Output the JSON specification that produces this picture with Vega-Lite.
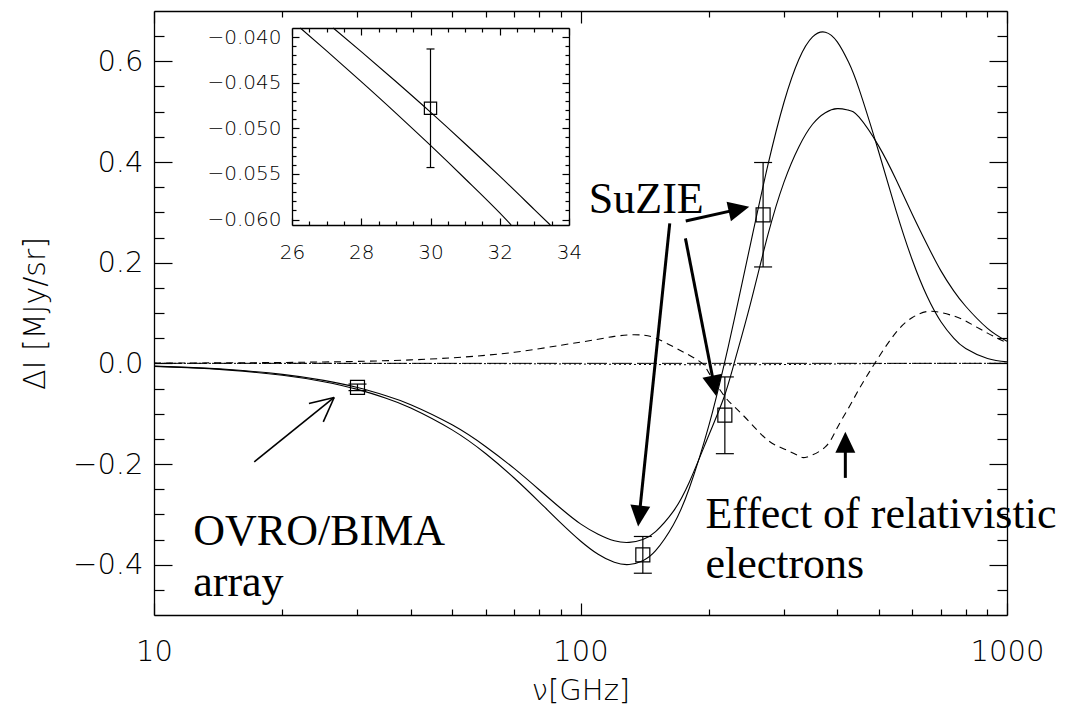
{
  "$schema": "https://vega.github.io/schema/vega-lite/v6.json",
  "width": 853,
  "height": 604,
  "autosize": {"type": "none"},
  "padding": {"left": 154, "top": 11, "right": 66, "bottom": 93},
  "background": "white",
  "config": {
    "view": {"stroke": null},
    "axis": {
      "grid": false,
      "domainColor": "black",
      "domainWidth": 1.3,
      "tickColor": "black",
      "tickWidth": 1.2,
      "labelColor": "black",
      "titleColor": "black",
      "labelFont": "DejaVu Sans",
      "titleFont": "DejaVu Sans",
      "labelFontWeight": 200,
      "titleFontWeight": 200,
      "labelFlush": false,
      "labelOverlap": false,
      "labelBound": false
    }
  },
  "datasets": {
    "nonrel": [
      {"nu": 10, "v": -0.00599}, {"nu": 12, "v": -0.00861}, {"nu": 15, "v": -0.0134}, {"nu": 20, "v": -0.0236},
      {"nu": 25, "v": -0.03645}, {"nu": 30, "v": -0.05175}, {"nu": 35, "v": -0.06925}, {"nu": 40, "v": -0.0887},
      {"nu": 50, "v": -0.13222}, {"nu": 60, "v": -0.17968}, {"nu": 70, "v": -0.22826}, {"nu": 80, "v": -0.27512},
      {"nu": 90, "v": -0.3175}, {"nu": 100, "v": -0.35295}, {"nu": 110, "v": -0.37943}, {"nu": 120, "v": -0.39537},
      {"nu": 130, "v": -0.3997}, {"nu": 140, "v": -0.39201}, {"nu": 150, "v": -0.37219}, {"nu": 165, "v": -0.32115},
      {"nu": 180, "v": -0.24768}, {"nu": 200, "v": -0.12338}, {"nu": 217, "v": -0.00342}, {"nu": 230, "v": 0.0916},
      {"nu": 250, "v": 0.23446}, {"nu": 275, "v": 0.39364}, {"nu": 300, "v": 0.51874}, {"nu": 325, "v": 0.6037},
      {"nu": 350, "v": 0.64857}, {"nu": 375, "v": 0.65789}, {"nu": 400, "v": 0.63862}, {"nu": 425, "v": 0.59845},
      {"nu": 450, "v": 0.54474}, {"nu": 500, "v": 0.42083}, {"nu": 550, "v": 0.30205}, {"nu": 600, "v": 0.20476},
      {"nu": 650, "v": 0.13257}, {"nu": 700, "v": 0.08266}, {"nu": 750, "v": 0.04993}, {"nu": 800, "v": 0.02936},
      {"nu": 900, "v": 0.00949}, {"nu": 1000, "v": 0.00286}
    ],
    "rel": [
      {"nu": 10, "v": -0.0056}, {"nu": 12, "v": -0.008}, {"nu": 15, "v": -0.0124}, {"nu": 20, "v": -0.0219},
      {"nu": 25, "v": -0.0339}, {"nu": 30, "v": -0.0481}, {"nu": 35, "v": -0.0643}, {"nu": 40, "v": -0.0822},
      {"nu": 50, "v": -0.1222}, {"nu": 60, "v": -0.1657}, {"nu": 70, "v": -0.2093}, {"nu": 80, "v": -0.2511},
      {"nu": 90, "v": -0.2885}, {"nu": 100, "v": -0.319}, {"nu": 110, "v": -0.3394}, {"nu": 120, "v": -0.3524},
      {"nu": 130, "v": -0.3557}, {"nu": 140, "v": -0.35}, {"nu": 150, "v": -0.3342}, {"nu": 165, "v": -0.2942},
      {"nu": 180, "v": -0.2357}, {"nu": 200, "v": -0.1424}, {"nu": 217, "v": -0.0674}, {"nu": 230, "v": 0.0046},
      {"nu": 250, "v": 0.1165}, {"nu": 275, "v": 0.255}, {"nu": 300, "v": 0.36}, {"nu": 325, "v": 0.43},
      {"nu": 350, "v": 0.475}, {"nu": 375, "v": 0.498}, {"nu": 400, "v": 0.506}, {"nu": 425, "v": 0.503},
      {"nu": 450, "v": 0.489}, {"nu": 500, "v": 0.432}, {"nu": 550, "v": 0.3641}, {"nu": 600, "v": 0.2958},
      {"nu": 650, "v": 0.2356}, {"nu": 700, "v": 0.1837}, {"nu": 750, "v": 0.1439}, {"nu": 800, "v": 0.1134},
      {"nu": 900, "v": 0.0695}, {"nu": 1000, "v": 0.0439}
    ],
    "dashed": [
      {"nu": 10, "v": 0.0004}, {"nu": 15, "v": 0.001}, {"nu": 20, "v": 0.0017}, {"nu": 25, "v": 0.0027},
      {"nu": 30, "v": 0.0038}, {"nu": 40, "v": 0.0068}, {"nu": 50, "v": 0.011}, {"nu": 60, "v": 0.016},
      {"nu": 70, "v": 0.022}, {"nu": 80, "v": 0.029}, {"nu": 90, "v": 0.036}, {"nu": 100, "v": 0.042},
      {"nu": 110, "v": 0.048}, {"nu": 120, "v": 0.0535}, {"nu": 130, "v": 0.0565}, {"nu": 140, "v": 0.056},
      {"nu": 150, "v": 0.05}, {"nu": 165, "v": 0.033}, {"nu": 180, "v": 0.016}, {"nu": 193, "v": 0.0},
      {"nu": 200, "v": -0.019}, {"nu": 217, "v": -0.064}, {"nu": 230, "v": -0.087}, {"nu": 250, "v": -0.118},
      {"nu": 275, "v": -0.153}, {"nu": 300, "v": -0.17}, {"nu": 325, "v": -0.184}, {"nu": 340, "v": -0.186},
      {"nu": 375, "v": -0.166}, {"nu": 400, "v": -0.128}, {"nu": 425, "v": -0.089}, {"nu": 450, "v": -0.051},
      {"nu": 475, "v": -0.018}, {"nu": 500, "v": 0.012}, {"nu": 550, "v": 0.062}, {"nu": 600, "v": 0.091},
      {"nu": 650, "v": 0.103}, {"nu": 700, "v": 0.101}, {"nu": 750, "v": 0.094}, {"nu": 800, "v": 0.084},
      {"nu": 900, "v": 0.06}, {"nu": 1000, "v": 0.041}
    ],
    "ksz": [
      {"nu": 10, "v": -0.00002}, {"nu": 20, "v": -0.00007}, {"nu": 30, "v": -0.00016}, {"nu": 50, "v": -0.00044},
      {"nu": 70, "v": -0.0008}, {"nu": 100, "v": -0.00145}, {"nu": 130, "v": -0.00207}, {"nu": 150, "v": -0.00241},
      {"nu": 180, "v": -0.00277}, {"nu": 217, "v": -0.00293}, {"nu": 250, "v": -0.00283}, {"nu": 300, "v": -0.0024},
      {"nu": 350, "v": -0.00183}, {"nu": 400, "v": -0.00129}, {"nu": 450, "v": -0.00086}, {"nu": 500, "v": -0.00054},
      {"nu": 600, "v": -0.00019}, {"nu": 700, "v": -0.00006}, {"nu": 800, "v": -0.00002}, {"nu": 1000, "v": 0}
    ],
    "pts": [
      {"nu": 30, "v": -0.0477, "lo": -0.0542, "hi": -0.0412},
      {"nu": 140, "v": -0.3805, "lo": -0.417, "hi": -0.344},
      {"nu": 218, "v": -0.103, "lo": -0.1795, "hi": -0.027},
      {"nu": 268, "v": 0.295, "lo": 0.1915, "hi": 0.399}
    ],
    "ins_lo": [
      {"nu": 26.24, "v": -0.039}, {"nu": 27, "v": -0.04151}, {"nu": 28, "v": -0.04488}, {"nu": 29, "v": -0.04833},
      {"nu": 30, "v": -0.05188}, {"nu": 31, "v": -0.05553}, {"nu": 32, "v": -0.05928}, {"nu": 32.33, "v": -0.0606}
    ],
    "ins_hi": [
      {"nu": 27.19, "v": -0.039}, {"nu": 28, "v": -0.04159}, {"nu": 29, "v": -0.04487}, {"nu": 30, "v": -0.04823},
      {"nu": 31, "v": -0.05169}, {"nu": 32, "v": -0.05525}, {"nu": 33, "v": -0.05891}, {"nu": 33.46, "v": -0.0606}
    ],
    "ins_pt": [{"nu": 30, "v": -0.0478, "lo": -0.0543, "hi": -0.0413}],
    "labels": [
      {"t": "SuZIE", "nu": 104.6, "v": 0.2986},
      {"t": "OVRO/BIMA", "nu": 12.36, "v": -0.3614},
      {"t": "array", "nu": 12.36, "v": -0.4628},
      {"t": "Effect of relativistic", "nu": 196.3, "v": -0.327},
      {"t": "electrons", "nu": 196.3, "v": -0.427}
    ],
    "thin": [
      {"nu": 17.18, "v": -0.1958, "nu2": 26.45, "v2": -0.0678},
      {"nu": 23.08, "v": -0.0797, "nu2": 26.45, "v2": -0.0678},
      {"nu": 24.94, "v": -0.1163, "nu2": 26.45, "v2": -0.0678}
    ],
    "thick": [
      {"nu": 176.5, "v": 0.2827, "nu2": 235.3, "v2": 0.3064},
      {"nu": 161.9, "v": 0.2781, "nu2": 137.3, "v2": -0.3034},
      {"nu": 176.2, "v": 0.2483, "nu2": 205.9, "v2": -0.0451},
      {"nu": 417.8, "v": -0.2276, "nu2": 417.8, "v2": -0.1567}
    ],
    "heads": [
      {"k": "a", "nu": 235.3, "v": 0.3064},
      {"k": "b", "nu": 137.3, "v": -0.3034},
      {"k": "c", "nu": 205.9, "v": -0.0451},
      {"k": "u", "nu": 417.8, "v": -0.1567}
    ]
  },
  "layer": [
    {
      "layer": [
        {
          "data": {"name": "nonrel"},
          "mark": {"type": "line", "color": "black", "strokeWidth": 1.1, "interpolate": "natural"},
          "encoding": {
            "x": {"field": "nu", "type": "quantitative", "scale": {"type": "log", "domain": [10, 1000], "nice": false},
              "axis": {"orient": "bottom", "values": [10, 100, 1000], "format": "d", "tickSize": -12, "labelPadding": 34, "labelFontSize": 29, "title": "ν[GHz]", "titleFontSize": 29, "titlePadding": 10, "domain": true}},
            "y": {"field": "v", "type": "quantitative", "scale": {"domain": [-0.5, 0.7], "nice": false, "zero": false},
              "axis": {"orient": "left", "values": [-0.4, -0.2, 0, 0.2, 0.4, 0.6], "format": ".1f", "tickSize": -18, "labelPadding": 29, "labelFontSize": 29, "title": "ΔI [MJy/sr]", "titleFontSize": 30, "titlePadding": 22, "domain": true}}
          }
        },
        {
          "data": {"name": "rel"},
          "mark": {"type": "line", "color": "black", "strokeWidth": 1.1, "interpolate": "natural"},
          "encoding": {
            "x": {"field": "nu", "type": "quantitative", "scale": {"type": "log", "domain": [10, 1000], "nice": false},
              "axis": {"orient": "bottom", "values": [20, 30, 40, 50, 60, 70, 80, 90, 200, 300, 400, 500, 600, 700, 800, 900], "tickSize": -6, "labels": false, "domain": false, "title": null}},
            "y": {"field": "v", "type": "quantitative", "scale": {"domain": [-0.5, 0.7], "nice": false, "zero": false},
              "axis": {"orient": "left", "values": [-0.45, -0.35, -0.3, -0.25, -0.15, -0.1, -0.05, 0.05, 0.1, 0.15, 0.25, 0.3, 0.35, 0.45, 0.5, 0.55, 0.65], "tickSize": -10, "labels": false, "domain": false, "title": null}}
          }
        },
        {
          "data": {"name": "dashed"},
          "mark": {"type": "line", "color": "black", "strokeWidth": 1.1, "strokeDash": [7, 5], "interpolate": "natural"},
          "encoding": {
            "x": {"field": "nu", "type": "quantitative", "scale": {"type": "log", "domain": [10, 1000], "nice": false},
              "axis": {"orient": "top", "values": [10, 100, 1000], "tickSize": -12, "labels": false, "domain": true, "title": null}},
            "y": {"field": "v", "type": "quantitative", "scale": {"domain": [-0.5, 0.7], "nice": false, "zero": false},
              "axis": {"orient": "right", "values": [-0.4, -0.2, 0, 0.2, 0.4, 0.6], "tickSize": -18, "labels": false, "domain": true, "title": null}}
          }
        },
        {
          "data": {"name": "ksz"},
          "mark": {"type": "line", "color": "black", "strokeWidth": 1, "strokeDash": [2, 3], "interpolate": "monotone"},
          "encoding": {
            "x": {"field": "nu", "type": "quantitative", "scale": {"type": "log", "domain": [10, 1000], "nice": false},
              "axis": {"orient": "top", "values": [20, 30, 40, 50, 60, 70, 80, 90, 200, 300, 400, 500, 600, 700, 800, 900], "tickSize": -6, "labels": false, "domain": false, "title": null}},
            "y": {"field": "v", "type": "quantitative", "scale": {"domain": [-0.5, 0.7], "nice": false, "zero": false},
              "axis": {"orient": "right", "values": [-0.45, -0.35, -0.3, -0.25, -0.15, -0.1, -0.05, 0.05, 0.1, 0.15, 0.25, 0.3, 0.35, 0.45, 0.5, 0.55, 0.65], "tickSize": -10, "labels": false, "domain": false, "title": null}}
          }
        },
        {
          "data": {"values": [{"v": 0}]},
          "mark": {"type": "rule", "color": "black", "strokeWidth": 1, "strokeDash": [20, 5]},
          "encoding": {
            "y": {"field": "v", "type": "quantitative", "scale": {"domain": [-0.5, 0.7], "nice": false, "zero": false}, "axis": null}
          }
        },
        {
          "data": {"name": "pts"},
          "mark": {"type": "rule", "color": "black", "strokeWidth": 1.2},
          "encoding": {
            "x": {"field": "nu", "type": "quantitative", "scale": {"type": "log", "domain": [10, 1000], "nice": false}, "axis": null},
            "y": {"field": "lo", "type": "quantitative", "scale": {"domain": [-0.5, 0.7], "nice": false, "zero": false}, "axis": null},
            "y2": {"field": "hi"}
          }
        },
        {
          "data": {"name": "pts"},
          "mark": {"type": "tick", "orient": "horizontal", "color": "black", "opacity": 1, "size": 18, "thickness": 1.2},
          "encoding": {
            "x": {"field": "nu", "type": "quantitative", "scale": {"type": "log", "domain": [10, 1000], "nice": false}, "axis": null},
            "y": {"field": "lo", "type": "quantitative", "scale": {"domain": [-0.5, 0.7], "nice": false, "zero": false}, "axis": null}
          }
        },
        {
          "data": {"name": "pts"},
          "mark": {"type": "tick", "orient": "horizontal", "color": "black", "opacity": 1, "size": 18, "thickness": 1.2},
          "encoding": {
            "x": {"field": "nu", "type": "quantitative", "scale": {"type": "log", "domain": [10, 1000], "nice": false}, "axis": null},
            "y": {"field": "hi", "type": "quantitative", "scale": {"domain": [-0.5, 0.7], "nice": false, "zero": false}, "axis": null}
          }
        },
        {
          "data": {"name": "pts"},
          "mark": {"type": "point", "shape": "square", "filled": false, "color": "black", "opacity": 1, "size": 196, "strokeWidth": 1.2},
          "encoding": {
            "x": {"field": "nu", "type": "quantitative", "scale": {"type": "log", "domain": [10, 1000], "nice": false}, "axis": null},
            "y": {"field": "v", "type": "quantitative", "scale": {"domain": [-0.5, 0.7], "nice": false, "zero": false}, "axis": null}
          }
        },
        {
          "data": {"name": "thin"},
          "mark": {"type": "rule", "color": "black", "strokeWidth": 1.6},
          "encoding": {
            "x": {"field": "nu", "type": "quantitative", "scale": {"type": "log", "domain": [10, 1000], "nice": false}, "axis": null},
            "x2": {"field": "nu2"},
            "y": {"field": "v", "type": "quantitative", "scale": {"domain": [-0.5, 0.7], "nice": false, "zero": false}, "axis": null},
            "y2": {"field": "v2"}
          }
        },
        {
          "data": {"name": "thick"},
          "mark": {"type": "rule", "color": "black", "strokeWidth": 3},
          "encoding": {
            "x": {"field": "nu", "type": "quantitative", "scale": {"type": "log", "domain": [10, 1000], "nice": false}, "axis": null},
            "x2": {"field": "nu2"},
            "y": {"field": "v", "type": "quantitative", "scale": {"domain": [-0.5, 0.7], "nice": false, "zero": false}, "axis": null},
            "y2": {"field": "v2"}
          }
        },
        {
          "data": {"name": "heads"},
          "transform": [{"filter": "datum.k === 'a'"}],
          "mark": {"type": "point", "shape": "M0,-1L0.95,1L-0.95,1Z", "filled": true, "color": "black", "opacity": 1, "size": 441, "angle": 77.4},
          "encoding": {
            "x": {"field": "nu", "type": "quantitative", "scale": {"type": "log", "domain": [10, 1000], "nice": false}, "axis": null},
            "y": {"field": "v", "type": "quantitative", "scale": {"domain": [-0.5, 0.7], "nice": false, "zero": false}, "axis": null}
          }
        },
        {
          "data": {"name": "heads"},
          "transform": [{"filter": "datum.k === 'b'"}],
          "mark": {"type": "point", "shape": "M0,-1L0.95,1L-0.95,1Z", "filled": true, "color": "black", "opacity": 1, "size": 441, "angle": 186},
          "encoding": {
            "x": {"field": "nu", "type": "quantitative", "scale": {"type": "log", "domain": [10, 1000], "nice": false}, "axis": null},
            "y": {"field": "v", "type": "quantitative", "scale": {"domain": [-0.5, 0.7], "nice": false, "zero": false}, "axis": null}
          }
        },
        {
          "data": {"name": "heads"},
          "transform": [{"filter": "datum.k === 'c'"}],
          "mark": {"type": "point", "shape": "M0,-1L0.95,1L-0.95,1Z", "filled": true, "color": "black", "opacity": 1, "size": 441, "angle": 168.9},
          "encoding": {
            "x": {"field": "nu", "type": "quantitative", "scale": {"type": "log", "domain": [10, 1000], "nice": false}, "axis": null},
            "y": {"field": "v", "type": "quantitative", "scale": {"domain": [-0.5, 0.7], "nice": false, "zero": false}, "axis": null}
          }
        },
        {
          "data": {"name": "heads"},
          "transform": [{"filter": "datum.k === 'u'"}],
          "mark": {"type": "point", "shape": "M0,-1L0.95,1L-0.95,1Z", "filled": true, "color": "black", "opacity": 1, "size": 441, "angle": 0},
          "encoding": {
            "x": {"field": "nu", "type": "quantitative", "scale": {"type": "log", "domain": [10, 1000], "nice": false}, "axis": null},
            "y": {"field": "v", "type": "quantitative", "scale": {"domain": [-0.5, 0.7], "nice": false, "zero": false}, "axis": null}
          }
        },
        {
          "data": {"name": "labels"},
          "mark": {"type": "text", "font": "Liberation Serif", "fontSize": 44, "align": "left", "baseline": "alphabetic", "color": "black"},
          "encoding": {
            "x": {"field": "nu", "type": "quantitative", "scale": {"type": "log", "domain": [10, 1000], "nice": false}, "axis": null},
            "y": {"field": "v", "type": "quantitative", "scale": {"domain": [-0.5, 0.7], "nice": false, "zero": false}, "axis": null},
            "text": {"field": "t"}
          }
        }
      ],
      "resolve": {"axis": {"x": "independent", "y": "independent"}}
    },
    {
      "layer": [
        {
          "data": {"name": "ins_lo"},
          "mark": {"type": "line", "color": "black", "strokeWidth": 1.1, "interpolate": "monotone"},
          "encoding": {
            "x": {"field": "nu", "type": "quantitative", "scale": {"domain": [26, 34], "range": [138, 415], "nice": false, "zero": false},
              "axis": {"orient": "bottom", "offset": -390, "values": [26, 28, 30, 32, 34], "format": "d", "tickSize": -7, "labelPadding": 24, "labelFontSize": 20, "title": null, "domain": true}},
            "y": {"field": "v", "type": "quantitative", "scale": {"domain": [-0.0606, -0.039], "range": [214, 17], "nice": false, "zero": false},
              "axis": {"orient": "left", "offset": -138, "values": [-0.06, -0.055, -0.05, -0.045, -0.04], "format": ".3f", "tickSize": -7, "labelPadding": 18, "labelFontSize": 20, "title": null, "domain": true}}
          }
        },
        {
          "data": {"name": "ins_hi"},
          "mark": {"type": "line", "color": "black", "strokeWidth": 1.1, "interpolate": "monotone"},
          "encoding": {
            "x": {"field": "nu", "type": "quantitative", "scale": {"domain": [26, 34], "range": [138, 415], "nice": false, "zero": false},
              "axis": {"orient": "bottom", "offset": -390, "values": [26.5, 27, 27.5, 28.5, 29, 29.5, 30.5, 31, 31.5, 32.5, 33, 33.5], "tickSize": -4, "labels": false, "domain": false, "title": null}},
            "y": {"field": "v", "type": "quantitative", "scale": {"domain": [-0.0606, -0.039], "range": [214, 17], "nice": false, "zero": false},
              "axis": {"orient": "left", "offset": -138, "values": [-0.059, -0.058, -0.057, -0.056, -0.054, -0.053, -0.052, -0.051, -0.049, -0.048, -0.047, -0.046, -0.044, -0.043, -0.042, -0.041], "tickSize": -4, "labels": false, "domain": false, "title": null}}
          }
        },
        {
          "data": {"name": "ins_pt"},
          "mark": {"type": "point", "shape": "square", "filled": false, "color": "black", "opacity": 1, "size": 150, "strokeWidth": 1.2},
          "encoding": {
            "x": {"field": "nu", "type": "quantitative", "scale": {"domain": [26, 34], "range": [138, 415], "nice": false, "zero": false},
              "axis": {"orient": "top", "offset": -17, "values": [26, 28, 30, 32, 34], "tickSize": -7, "labels": false, "domain": true, "title": null}},
            "y": {"field": "v", "type": "quantitative", "scale": {"domain": [-0.0606, -0.039], "range": [214, 17], "nice": false, "zero": false},
              "axis": {"orient": "right", "offset": -438, "values": [-0.06, -0.055, -0.05, -0.045, -0.04], "tickSize": -7, "labels": false, "domain": true, "title": null}}
          }
        },
        {
          "data": {"name": "ins_pt"},
          "mark": {"type": "rule", "color": "black", "strokeWidth": 1.2},
          "encoding": {
            "x": {"field": "nu", "type": "quantitative", "scale": {"domain": [26, 34], "range": [138, 415], "nice": false, "zero": false},
              "axis": {"orient": "top", "offset": -17, "values": [26.5, 27, 27.5, 28.5, 29, 29.5, 30.5, 31, 31.5, 32.5, 33, 33.5], "tickSize": -4, "labels": false, "domain": false, "title": null}},
            "y": {"field": "lo", "type": "quantitative", "scale": {"domain": [-0.0606, -0.039], "range": [214, 17], "nice": false, "zero": false},
              "axis": {"orient": "right", "offset": -438, "values": [-0.059, -0.058, -0.057, -0.056, -0.054, -0.053, -0.052, -0.051, -0.049, -0.048, -0.047, -0.046, -0.044, -0.043, -0.042, -0.041], "tickSize": -4, "labels": false, "domain": false, "title": null}},
            "y2": {"field": "hi"}
          }
        },
        {
          "data": {"name": "ins_pt"},
          "mark": {"type": "tick", "orient": "horizontal", "color": "black", "opacity": 1, "size": 8, "thickness": 1.2},
          "encoding": {
            "x": {"field": "nu", "type": "quantitative", "scale": {"domain": [26, 34], "range": [138, 415], "nice": false, "zero": false}, "axis": null},
            "y": {"field": "lo", "type": "quantitative", "scale": {"domain": [-0.0606, -0.039], "range": [214, 17], "nice": false, "zero": false}, "axis": null}
          }
        },
        {
          "data": {"name": "ins_pt"},
          "mark": {"type": "tick", "orient": "horizontal", "color": "black", "opacity": 1, "size": 8, "thickness": 1.2},
          "encoding": {
            "x": {"field": "nu", "type": "quantitative", "scale": {"domain": [26, 34], "range": [138, 415], "nice": false, "zero": false}, "axis": null},
            "y": {"field": "hi", "type": "quantitative", "scale": {"domain": [-0.0606, -0.039], "range": [214, 17], "nice": false, "zero": false}, "axis": null}
          }
        }
      ],
      "resolve": {"axis": {"x": "independent", "y": "independent"}}
    }
  ],
  "resolve": {"scale": {"x": "independent", "y": "independent"}, "axis": {"x": "independent", "y": "independent"}}
}
